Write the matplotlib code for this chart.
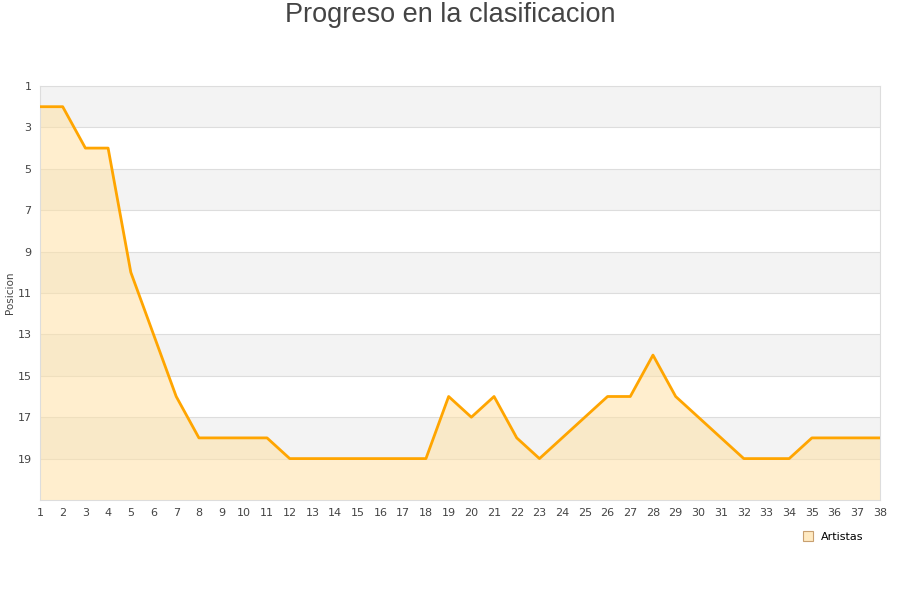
import numpy as np
import matplotlib.pyplot as plt
from matplotlib.lines import Line2D

# Clasificacion por jornada
jornadas = list(range(1, 39))
posicion = [2, 2, 4, 4, 10, 13, 16, 18, 18, 18, 18, 19, 19, 19, 19, 19, 19, 19,
            16, 17, 16, 18, 19, 18, 17, 16, 16, 14, 16, 17, 18, 19, 19, 19,
            18, 18, 18, 18]
y_ticks = list(range(1, 21, 2))

fig = plt.figure(figsize=(9, 6), dpi=100)
ax = fig.add_axes([40 / 900, 100 / 600, 840 / 900, 414 / 600])

# alternating bands
for y0 in range(1, 21, 4):
    ax.axhspan(y0, y0 + 2, color='#f3f3f3', zorder=0, lw=0)
for y in y_ticks[1:]:
    ax.axhline(y, color='#dddddd', lw=0.8, zorder=1)

ax.fill_between(jornadas, posicion, 21, color='#ffe1a6', alpha=0.55, lw=0, zorder=2)
ax.plot(jornadas, posicion, color='#ffa500', lw=2.0, zorder=3)

ax.set_xlim(1, 38)
ax.set_ylim(21, 1)
ax.set_xticks(jornadas)
ax.set_yticks(y_ticks)
ax.tick_params(length=0, labelsize=8, colors='#444444', pad=6)
for s in ax.spines.values():
    s.set_color('#dddddd')
    s.set_linewidth(0.8)
ax.set_ylabel('Posicion', fontsize=7.5, color='#444444')
ax.yaxis.set_label_coords(-0.03, 0.5)

fig.suptitle('Progreso en la clasificacion', x=0.5, y=0.997, fontsize=19.5,
             color='#444444', family='Liberation Sans', va='top')

handle = Line2D([], [], marker='s', ls='none', markersize=7,
                markerfacecolor='#ffeac2', markeredgecolor='#c8a070', markeredgewidth=0.8)
fig.legend([handle], ['Artistas'], loc='center', bbox_to_anchor=(833 / 900, 1 - 537 / 600),
           frameon=False, fontsize=8, handletextpad=0.6, handlelength=1)

fig.savefig('out.png', dpi=100)
